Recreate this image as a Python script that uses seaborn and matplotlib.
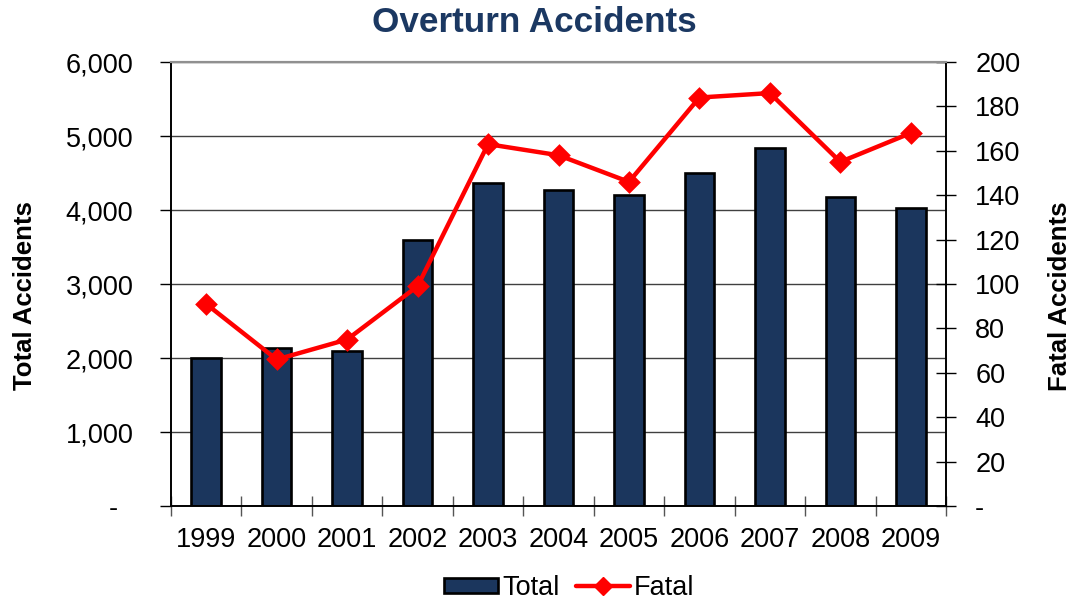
import numpy as np
import matplotlib
matplotlib.use('Agg')
import matplotlib.pyplot as plt
from matplotlib.ticker import FuncFormatter, MultipleLocator, FixedLocator
from matplotlib.patches import Patch
from matplotlib.lines import Line2D
import seaborn as sns

# data
years = ['1999', '2000', '2001', '2002', '2003', '2004', '2005', '2006', '2007', '2008', '2009']
total = [2000, 2140, 2100, 3600, 4370, 4270, 4205, 4500, 4840, 4175, 4025]
fatal = [91, 66, 75, 99, 163, 158, 146, 184, 186, 155, 168]

sns.set_theme(style='white')
plt.rcParams['font.family'] = ['Liberation Sans', 'DejaVu Sans']
plt.rcParams['text.color'] = 'black'
plt.rcParams['axes.labelcolor'] = 'black'
plt.rcParams['xtick.color'] = 'black'
plt.rcParams['ytick.color'] = 'black'

bar_color = '#1b365d'
navy = '#1b3862'
fs = 19.5

fig = plt.figure(figsize=(10.73, 6.01), dpi=100)
ax = fig.add_axes([171 / 1073, 1 - 506 / 601, 775 / 1073, 444 / 601])
ax2 = ax.twinx()

# bars on the left axis
sns.barplot(x=years, y=total, color=bar_color, saturation=1, width=0.42,
            edgecolor='black', linewidth=1.9, ax=ax, zorder=2)

# fatal line on the right axis
sns.pointplot(x=years, y=fatal, color='#ff0000', markers='D', linestyles='-',
              markersize=9, linewidth=3.2, ax=ax2)

# left axis
ax.set_ylim(0, 6000)
ax.yaxis.set_major_locator(MultipleLocator(1000))
ax.yaxis.set_major_formatter(FuncFormatter(lambda v, p: '-  ' if v == 0 else f'{int(v):,}'))
ax.grid(axis='y', color='#404040', linewidth=1)
ax.set_axisbelow(True)
ax.tick_params(axis='y', which='major', direction='out', length=8, width=1,
               color='black', labelsize=fs, pad=19, left=True)
ax.set_ylabel('Total Accidents', fontsize=18.5, fontweight='bold')
ax.yaxis.set_label_coords(-0.173, 0.473)

# right axis
ax2.set_ylim(0, 200)
ax2.yaxis.set_major_locator(MultipleLocator(20))
ax2.yaxis.set_major_formatter(FuncFormatter(lambda v, p: '-' if v == 0 else f'{int(v)}'))
ax2.tick_params(axis='y', which='major', direction='inout', length=14, width=1,
                color='black', labelsize=fs, pad=14, right=True)
ax2.set_ylabel('Fatal Accidents', fontsize=18.5, fontweight='bold')
ax2.yaxis.set_label_coords(1.1316, 0.473)
ax2.grid(False)

# x axis: year labels at centres, tick marks between categories
ax.set_xlim(-0.5, len(years) - 0.5)
ax.set_xticks(range(len(years)))
ax.set_xticklabels(years)
ax.xaxis.set_minor_locator(FixedLocator(np.arange(-0.5, len(years), 1)))
ax.tick_params(axis='x', which='major', length=0, labelsize=fs, pad=15)
ax.tick_params(axis='x', which='minor', direction='inout', length=14, width=1,
               color='#555555', bottom=True)
ax.set_xlabel('')
ax2.set_xlabel('')

for a in (ax, ax2):
    for s in a.spines.values():
        s.set_color('black')
        s.set_linewidth(1.2)
    a.spines['top'].set_color('#909090')
    a.spines['top'].set_linewidth(1.5)

fig.suptitle('Overturn Accidents', x=0.498, y=0.963, va='center',
             fontsize=25.3, fontweight='bold', color=navy)

handles = [Patch(facecolor=bar_color, edgecolor='black', linewidth=1.9, label='Total'),
           Line2D([0], [0], color='#ff0000', linewidth=3.2, marker='D', markersize=9, label='Fatal')]
fig.legend(handles=handles, loc='center', bbox_to_anchor=(569 / 1073, 1 - 588 / 601), ncol=2,
           frameon=False, fontsize=fs, handlelength=2.0, handleheight=0.5,
           handletextpad=0.15, columnspacing=0.6)

plt.savefig('out.png', dpi=100)
